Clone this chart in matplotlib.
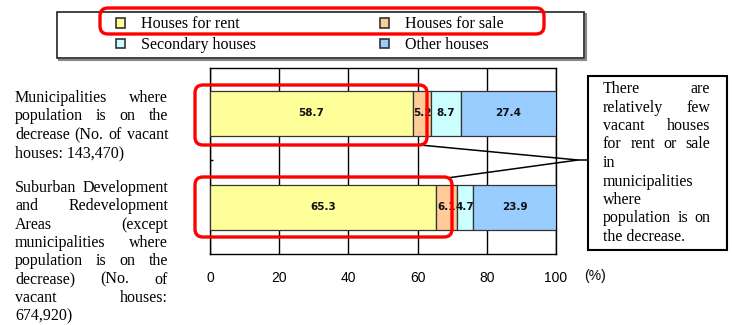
import matplotlib
matplotlib.use('Agg')
import matplotlib.pyplot as plt
from matplotlib.patches import FancyBboxPatch, Rectangle, Patch
import numpy as np

# ---- data ----
categories = ["Municipalities where population is on the decrease",
              "Suburban Development and Redevelopment Areas"]
series_names = ["Houses for rent", "Houses for sale", "Secondary houses", "Other houses"]
rent = [58.7, 65.3]
sale = [5.2, 6.1]
secondary = [8.7, 4.7]
other = [27.4, 23.9]
x_ticks = [0, 20, 40, 60, 80, 100]
colors = ['#FFFF99', '#FFCC99', '#CCFFFF', '#99CCFF']

W, H = 732, 325
fig = plt.figure(figsize=(W / 100, H / 100), dpi=100)

# ---- main axes ----
ax = fig.add_axes([210 / W, 1 - 254 / H, (556 - 210) / W, (254 - 68) / H])
ypos = [1, 0]
left = np.zeros(2)
bars = []
for name, vals, c in zip(series_names, [rent, sale, secondary, other], colors):
    b = ax.barh(ypos, vals, left=left, height=0.47, color=c, edgecolor='#333333',
                linewidth=0.9, label=name, zorder=3)
    ax.bar_label(b, labels=[f'{v:.1f}' for v in vals], label_type='center',
                 fontsize=7.5, fontweight='bold', family='DejaVu Sans', color='#111111')
    left += np.array(vals)
    bars.append(b)
ax.set_xlim(0, 100)
ax.set_ylim(-0.495, 1.484)
ax.set_xticks(x_ticks)
ax.set_xticklabels([str(t) for t in x_ticks], fontsize=10, family='Liberation Sans')
ax.tick_params(axis='x', length=0, pad=12.5)
ax.set_yticks([0.5])
ax.set_yticklabels([''])
ax.tick_params(axis='y', length=2, direction='in', width=1)
ax.grid(axis='x', color='black', linewidth=1.0)
ax.set_axisbelow(True)
for s in ax.spines.values():
    s.set_linewidth(1.0)
    s.set_color('black')

# ---- overlay (pixel coordinates) ----
ov = fig.add_axes([0, 0, 1, 1], zorder=5)
ov.set_xlim(0, W)
ov.set_ylim(H, 0)
ov.axis('off')
ov.patch.set_alpha(0)

ov.text(595, 276, '(%)', fontsize=10, family='Liberation Sans', ha='center', va='center')

# legend frame with shadow
ov.add_patch(Rectangle((59, 14), 527, 46, fc='none', ec='#888888', lw=1.5, zorder=1))
ov.add_patch(Rectangle((57, 12), 527, 46, fc='white', ec='#222222', lw=1.2, zorder=2))
handles = [bars[0], bars[2], bars[1], bars[3]]
labels = [series_names[0], series_names[2], series_names[1], series_names[3]]
leg_handles = [Patch(facecolor=h.patches[0].get_facecolor(), edgecolor='#333333', lw=1.2) for h in handles]
leg = ov.legend(leg_handles, labels, ncol=2, loc='upper left', bbox_to_anchor=(116, 16.5),
                bbox_transform=ov.transData, frameon=False, borderpad=0, borderaxespad=0,
                prop={'family': 'Liberation Serif', 'size': 11.5},
                handlelength=0.55, handleheight=0.55, handletextpad=1.0,
                labelspacing=0.3, columnspacing=7.8)
leg.set_zorder(3)

# red highlight boxes
def redbox(x0, y0, x1, y1):
    ov.add_patch(FancyBboxPatch((x0, y0), x1 - x0, y1 - y0,
                                boxstyle='round,pad=0,rounding_size=8',
                                fc='none', ec='#FF0000', lw=2.4, zorder=6))

redbox(100, 8, 544, 34)
redbox(195, 85, 427, 145)
redbox(195, 177, 452, 237)

# callout
ov.plot([420, 578, 447], [145, 160, 178], color='black', lw=1.1, zorder=4)
ov.plot([578, 588], [160, 160], color='black', lw=1.1, zorder=4)
ov.add_patch(Rectangle((588, 76), 139, 174, fc='white', ec='black', lw=1.5, zorder=4))

renderer = fig.canvas.get_renderer()
tprops = dict(family='Liberation Serif', fontsize=11.5, va='center', ha='left', zorder=7)


def justify(lines, x0, x1, y0, dy):
    for i, line in enumerate(lines):
        y = y0 + i * dy
        words = line.split()
        if len(words) == 1 or i == len(lines) - 1:
            ov.text(x0, y, line, **tprops)
            continue
        ts = [ov.text(0, y, w, **tprops) for w in words]
        widths = [t.get_window_extent(renderer).width for t in ts]
        gap = (x1 - x0 - sum(widths)) / (len(words) - 1)
        x = x0
        for t, w in zip(ts, widths):
            t.set_x(x)
            x += w + gap


justify(["Municipalities where", "population is on the", "decrease (No. of vacant",
         "houses: 143,470)"], 15, 168, 98, 18.5)
justify(["Suburban Development", "and Redevelopment", "Areas (except",
         "municipalities where", "population is on the", "decrease) (No. of",
         "vacant houses:", "674,920)"], 15, 168, 188, 18.3)
justify(["There are", "relatively few", "vacant houses", "for rent or sale", "in",
         "municipalities", "where", "population is on", "the decrease."], 603, 710, 89, 18.5)

fig.savefig('out.png', dpi=100)
